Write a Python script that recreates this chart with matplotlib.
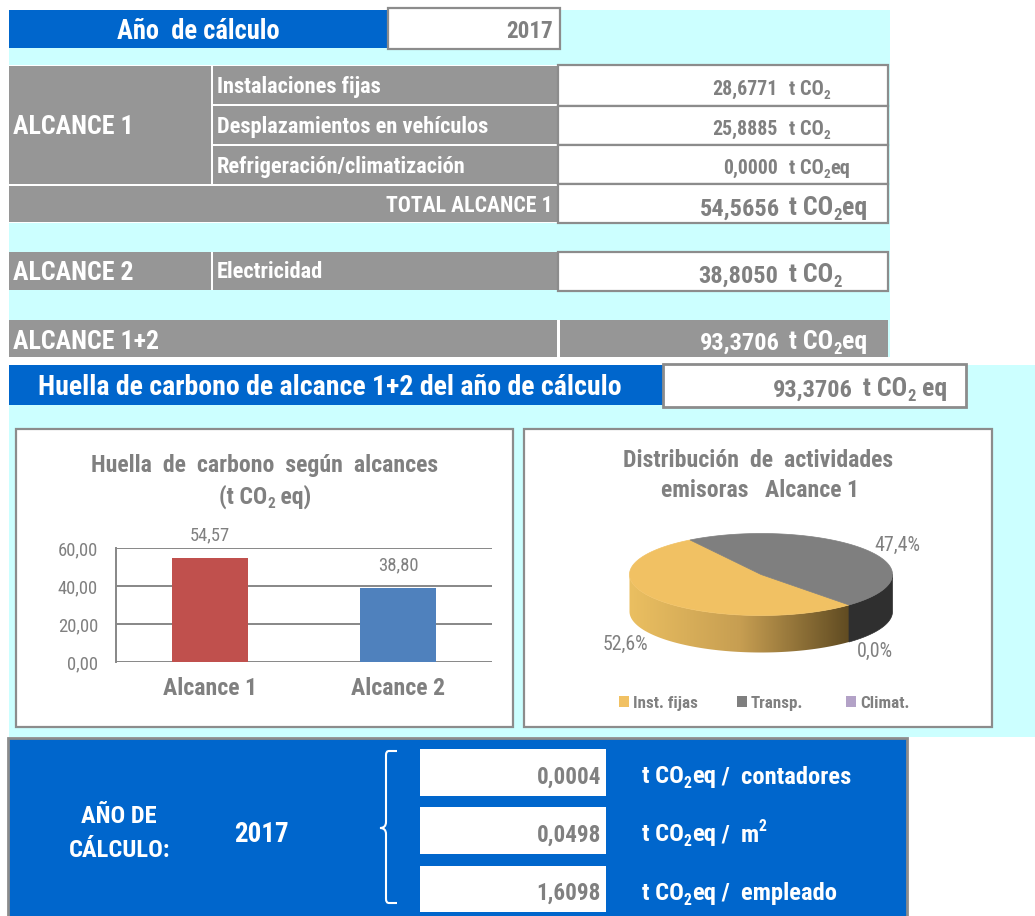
import numpy as np
import matplotlib
matplotlib.use('Agg')
import matplotlib.pyplot as plt
from matplotlib.patches import Rectangle, Polygon, PathPatch
from matplotlib.path import Path
from matplotlib import font_manager as fm
from matplotlib.colors import LinearSegmentedColormap

# ---------------- data ----------------
year = "2017"
scope1_labels = ["Instalaciones fijas", "Desplazamientos en vehículos", "Refrigeración/climatización"]
scope1_values = [28.6771, 25.8885, 0.0000]
scope1_units_eq = [False, False, True]
scope1_total = 54.5656
scope2_label = "Electricidad"
scope2_value = 38.8050
scope12_total = 93.3706
footprint_total = 93.3706

bar_categories = ["Alcance 1", "Alcance 2"]
bar_values = [54.57, 38.80]
bar_ticks = [0, 20, 40, 60]

pie_labels = ["Inst. fijas", "Transp.", "Climat."]
pie_values = [52.6, 47.4, 0.0]

ratio_values = [0.0004, 0.0498, 1.6098]
ratio_units = ["contadores", "m", "empleado"]
ratio_unit_sup = ["", "2", ""]

# ---------------- style ----------------
BLUE = '#0066CC'
CYAN = '#CCFFFF'
GRAYCELL = '#969696'
GRAYTXT = '#808080'
BORDER = '#8C8C8C'
BAR_COLORS = ['#C0504D', '#4F81BD']
PIE_TOP = ['#F1C163', '#7F7F7F', '#B3A2C7']
PIE_SIDE = [None, '#2F2F2F', '#8E7FA3']

# choose a condensed font if one is installed
ttf = fm.fontManager.ttflist
names = {f.name for f in ttf}
FONT, STRETCH = 'Liberation Sans', 'normal'
for cand in ['Liberation Sans Narrow', 'Roboto Condensed', 'Open Sans Condensed',
             'Noto Sans Condensed']:
    if cand in names:
        FONT = cand
        break
else:
    for fam in ['Roboto', 'Open Sans', 'Noto Sans', 'DejaVu Sans']:
        if any(f.name == fam and str(f.stretch) in ('condensed', 'semi-condensed', '75', '87.5')
               for f in ttf):
            FONT, STRETCH = fam, 'condensed'
            break

W, H = 1035, 916
fig = plt.figure(figsize=(W / 100, H / 100), dpi=100)
ax = fig.add_axes([0, 0, 1, 1])
ax.set_xlim(0, W)
ax.set_ylim(H, 0)
ax.axis('off')
renderer = fig.canvas.get_renderer()

# calibrate widths against Arial Narrow Bold metrics
_t = ax.text(0, 0, "0123456789", fontsize=10, family=FONT, fontstretch=STRETCH,
             weight='bold')
_w = _t.get_window_extent(renderer).width
_t.remove()
BASE = (10 * 0.556 * 0.82 * 10 * 100 / 72) / _w
SCALE_NUM = BASE * 1.03
SCALE_TXT = BASE * 1.09
NUMCHARS = set("0123456789,.%")


def fmt(v, n=4):
    return f"{v:.{n}f}".replace('.', ',')


def rect(x0, y0, x1, y1, fc, ec='none', lw=0, z=1):
    ax.add_patch(Rectangle((x0, y0), x1 - x0, y1 - y0, facecolor=fc,
                           edgecolor=ec, linewidth=lw, zorder=z))


def rich(x, yc, parts, size, color, ha='left', bold=True, z=6):
    em = size * SCALE_TXT * 100 / 72
    base = yc + 0.36 * em
    items = []
    for s, kind in parts:
        sc = SCALE_NUM if set(s) <= NUMCHARS else SCALE_TXT
        fs = size * sc * (0.68 if kind != 'n' else 1.0)
        dy = 0.2 * em if kind == 'sub' else (-0.42 * em if kind == 'sup' else 0)
        t = ax.text(0, base + dy, s, fontsize=fs, family=FONT, fontstretch=STRETCH,
                    weight='bold' if bold else 'normal', color=color,
                    va='baseline', ha='left', zorder=z)
        w = t.get_window_extent(renderer).width
        items.append((t, w))
    total = sum(w for _, w in items)
    if ha == 'left':
        xs = x
    elif ha == 'right':
        xs = x - total
    else:
        xs = x - total / 2
    for t, w in items:
        t.set_x(xs)
        xs += w
    return total


def co2(eq=False, space_eq=False):
    p = [("t CO", 'n'), ("2", 'sub')]
    if eq:
        p.append((" eq" if space_eq else "eq", 'n'))
    return p


# ---------------- backgrounds ----------------
rect(9, 10, 890, 357, CYAN, z=0)
rect(9, 365, W, 737, CYAN, z=0)

# header
rect(9, 10, 388, 48, BLUE, z=2)
rect(388, 8, 560, 49, 'white', BORDER, 1.6, z=2)
rich(198, 29, [("Año  de cálculo", 'n')], 19.5, 'white', ha='center')
rich(553, 29, [(year, 'n')], 18, GRAYTXT, ha='right')

# scope 1 block
rect(9, 65, 557, 223, 'white', z=1)
rect(9, 66, 211, 184, GRAYCELL, z=2)
row_tops = [66, 106, 146]
row_bots = [104, 144, 184]
row_box = [(65, 106), (106, 145), (145, 184)]
for i, lab in enumerate(scope1_labels):
    rect(213, row_tops[i], 557, row_bots[i], GRAYCELL, z=2)
    rich(217, (row_tops[i] + row_bots[i]) / 2, [(lab, 'n')], 16.5, 'white')
    y0, y1 = row_box[i]
    rect(558, y0, 888, y1, 'white', BORDER, 1.6, z=2)
    yc = (y0 + y1) / 2 + 2
    rich(778, yc, [(fmt(scope1_values[i]), 'n')], 15.5, GRAYTXT, ha='right')
    rich(789, yc, co2(scope1_units_eq[i]), 15, GRAYTXT)
rich(13, 125, [("ALCANCE 1", 'n')], 19, 'white')

rect(9, 186, 557, 222, GRAYCELL, z=2)
rich(553, 204, [("TOTAL ALCANCE 1", 'n')], 16, 'white', ha='right')
rect(558, 184, 888, 223, 'white', BORDER, 1.6, z=2)
rich(780, 206, [(fmt(scope1_total), 'n')], 19, GRAYTXT, ha='right')
rich(789, 206, co2(True), 19, GRAYTXT)

# scope 2
rect(9, 252, 557, 290, 'white', z=1)
rect(9, 252, 211, 290, GRAYCELL, z=2)
rect(213, 252, 557, 290, GRAYCELL, z=2)
rich(13, 271, [("ALCANCE 2", 'n')], 19, 'white')
rich(217, 270, [(scope2_label, 'n')], 16.5, 'white')
rect(558, 252, 888, 291, 'white', BORDER, 1.6, z=2)
rich(778, 273, [(fmt(scope2_value), 'n')], 19, GRAYTXT, ha='right')
rich(789, 273, co2(False), 19, GRAYTXT)

# scope 1+2
rect(9, 320, 888, 357, 'white', z=1)
rect(9, 320, 557, 357, GRAYCELL, z=2)
rect(560, 320, 888, 357, GRAYCELL, z=2)
rich(13, 340, [("ALCANCE 1+2", 'n')], 19, 'white')
rich(780, 340, [(fmt(scope12_total), 'n')], 19, 'white', ha='right')
rich(789, 340, co2(True), 19, 'white')

# footprint line
rect(9, 365, 663, 405, BLUE, z=2)
rich(38, 385, [("Huella de carbono de alcance 1+2 del año de cálculo", 'n')], 20.5, 'white')
rect(663, 364, 966, 407, 'white', BORDER, 2.0, z=2)
rich(853, 387, [(fmt(footprint_total), 'n')], 19, GRAYTXT, ha='right')
rich(863, 387, co2(True, space_eq=True), 19, GRAYTXT)

# ---------------- chart panels ----------------
rect(16, 429, 513, 727, 'white', BORDER, 1.6, z=1)
rect(524, 429, 992, 727, 'white', BORDER, 1.6, z=1)

# bar chart
rich(265, 463, [("Huella  de  carbono  según  alcances", 'n')], 17.5, GRAYTXT, ha='center')
rich(265, 495, [("(t CO", 'n'), ("2", 'sub'), (" eq)", 'n')], 17.5, GRAYTXT, ha='center')

bx = fig.add_axes([116 / W, 1 - 662 / H, (492 - 116) / W, (662 - 548) / H])
bx.set_facecolor('none')
xpos = np.arange(len(bar_values))
bx.bar(xpos, bar_values, width=0.4, color=BAR_COLORS, zorder=3)
bx.set_xlim(-0.5, len(bar_values) - 0.5)
bx.set_ylim(bar_ticks[0], bar_ticks[-1])
bx.set_yticks(bar_ticks)
bx.set_yticklabels([fmt(t, 2) for t in bar_ticks], fontsize=14.5 * SCALE_NUM,
                   family=FONT, fontstretch=STRETCH, color=GRAYTXT)
bx.set_xticks(xpos)
bx.set_xticklabels(bar_categories, fontsize=17.5 * SCALE_TXT, family=FONT,
                   fontstretch=STRETCH, weight='bold', color=GRAYTXT)
bx.tick_params(axis='y', length=0, pad=13)
bx.tick_params(axis='x', length=0, pad=11)
for s in ['top', 'right', 'bottom']:
    bx.spines[s].set_visible(False)
bx.spines['left'].set_color('#878787')
bx.spines['left'].set_linewidth(1.4)
bx.yaxis.grid(True, color='#878787', linewidth=1.4, zorder=1)
bx.set_axisbelow(True)
for x, v in zip(xpos, bar_values):
    bx.annotate(fmt(v, 2), (x, v), xytext=(0, 16.5), textcoords='offset points',
                ha='center', va='center', fontsize=14.5 * SCALE_NUM, family=FONT,
                fontstretch=STRETCH, color=GRAYTXT)

# pie chart (3-D look)
rich(758, 458, [("Distribución  de  actividades", 'n')], 17.5, GRAYTXT, ha='center')
rich(760, 488, [("emisoras   Alcance 1", 'n')], 17.5, GRAYTXT, ha='center')

cx, cy, a, b, depth = 761.0, 574.5, 131.5, 41.0, 37.0
vals = np.array(pie_values, dtype=float)
frac = vals / vals.sum()
cum = np.concatenate([[0], np.cumsum(frac)])
start = 312.0  # first slice starts here, slices run clockwise
spans = [(start - cum[i + 1] * 360, start - cum[i] * 360) for i in range(len(vals))]


def ell(t, dy=0.0):
    r = np.radians(t)
    return cx + a * np.cos(r), cy - b * np.sin(r) + dy


yellow_cmap = LinearSegmentedColormap.from_list(
    'ys', [(0.92, 0.75, 0.38), (0.78, 0.62, 0.32), (0.37, 0.29, 0.13)])

for i, (t1, t2) in enumerate(spans):
    for k in (-1, 0, 1):
        lo = max(t1 + 360 * k, 180)
        hi = min(t2 + 360 * k, 360)
        if hi - lo <= 0.01:
            continue
        ts = np.linspace(lo, hi, 120)
        xt, yt = ell(ts)
        xb, yb = ell(ts[::-1], depth)
        pts = np.column_stack([np.concatenate([xt, xb]), np.concatenate([yt, yb])])
        if i == 0:
            poly = Polygon(pts, closed=True, facecolor='none', edgecolor='none', zorder=3)
            ax.add_patch(poly)
            grad = np.linspace(0, 1, 256).reshape(1, -1)
            x_right = ell(hi)[0]
            im = ax.imshow(grad, cmap=yellow_cmap, aspect='auto',
                           extent=[cx - a - 1, x_right + 1, cy + b + depth + 2, cy - 2],
                           zorder=3)
            im.set_clip_path(poly)
        else:
            ax.add_patch(Polygon(pts, closed=True, facecolor=PIE_SIDE[i],
                                 edgecolor=PIE_SIDE[i], linewidth=0.5, zorder=3))

for i, (t1, t2) in enumerate(spans):
    if t2 - t1 <= 0.01:
        continue
    ts = np.linspace(t1, t2, 200)
    xt, yt = ell(ts)
    pts = np.column_stack([np.concatenate([[cx], xt]), np.concatenate([[cy], yt])])
    ax.add_patch(Polygon(pts, closed=True, facecolor=PIE_TOP[i],
                         edgecolor=PIE_TOP[i], linewidth=0.5, zorder=4))

for i, (t1, t2) in enumerate(spans):
    tm = np.radians((t1 + t2) / 2)
    lx = cx + 1.3 * a * np.cos(tm)
    ly = cy - 1.25 * b * np.sin(tm) + (depth if np.sin(tm) < 0 else 0)
    rich(lx, ly, [(fmt(frac[i] * 100, 1) + "%", 'n')], 15.5, GRAYTXT,
         ha='center', bold=False)

# legend
leg_x = [619, 737, 846]
for i, lab in enumerate(pie_labels):
    rect(leg_x[i], 696, leg_x[i] + 10, 707, PIE_TOP[i], z=5)
    rich(leg_x[i] + 14, 702, [(lab, 'n')], 12.5, GRAYTXT)

# ---------------- bottom ratios ----------------
rect(8, 738, 907, 920, BLUE, BORDER, 2.0, z=1)
rich(119, 814, [("AÑO DE", 'n')], 18, 'white', ha='center')
rich(120, 848, [("CÁLCULO:", 'n')], 18, 'white', ha='center')
rich(261, 832, [(year, 'n')], 21, 'white', ha='center')

# brace
bx0, ytop, ybot, ymid = 386, 751, 903, 828
verts = [(397, ytop), (389, ytop), (bx0, ytop), (bx0, ytop + 4), (bx0, ymid - 6),
         (bx0, ymid), (380, ymid), (bx0, ymid), (bx0, ymid + 6), (bx0, ybot - 4),
         (bx0, ybot), (389, ybot), (397, ybot)]
codes = [Path.MOVETO, Path.LINETO, Path.CURVE3, Path.CURVE3, Path.LINETO,
         Path.CURVE3, Path.CURVE3, Path.CURVE3, Path.CURVE3, Path.LINETO,
         Path.CURVE3, Path.CURVE3, Path.LINETO]
ax.add_patch(PathPatch(Path(verts, codes), facecolor='none', edgecolor='white',
                       linewidth=1.5, zorder=5))

box_y = [(749, 796), (807, 854), (866, 912)]
for i, v in enumerate(ratio_values):
    y0, y1 = box_y[i]
    rect(420, y0, 606, y1, 'white', z=3)
    yc = (y0 + y1) / 2 + 2
    rich(601, yc, [(fmt(v), 'n')], 18, GRAYTXT, ha='right')
    parts = co2(True) + [(" /  " + ratio_units[i], 'n')]
    if ratio_unit_sup[i]:
        parts.append((ratio_unit_sup[i], 'sup'))
    rich(642, yc, parts, 18, 'white')

fig.savefig('out.png', dpi=100)
